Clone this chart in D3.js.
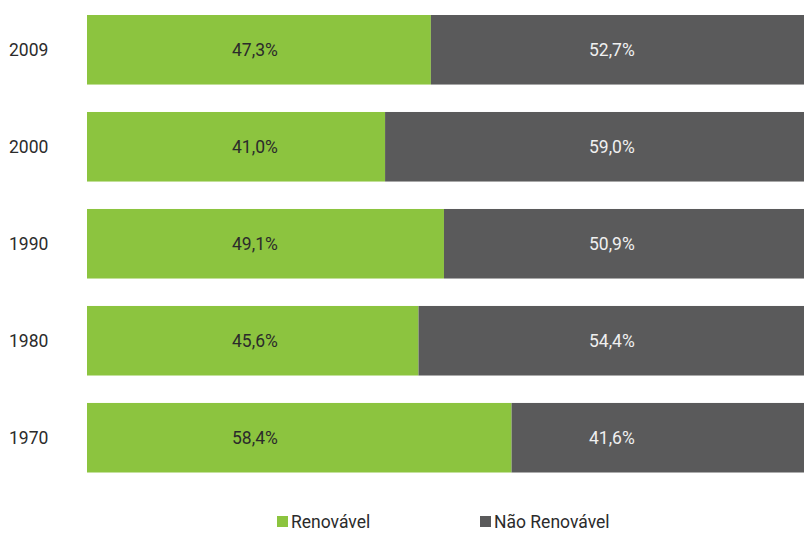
<!DOCTYPE html>
<html>
<head>
<meta charset="utf-8">
<script src="https://cdn.jsdelivr.net/npm/d3@7"></script>
<style>
  body { margin: 0; background: #fff; }
  text { font-family: "Roboto", "Liberation Sans", sans-serif; }
</style>
</head>
<body>
<script>
// Chart data
var years = ["2009", "2000", "1990", "1980", "1970"];
var renovavel = [47.3, 41.0, 49.1, 45.6, 58.4];
var naoRenovavel = [52.7, 59.0, 50.9, 54.4, 41.6];
var seriesNames = ["Renovável", "Não Renovável"];

var w = 804;
var h = 533;
var green = "#8cc43f";
var grey = "#5a5a5b";

var svg = d3.select("body").append("svg").attr("width", w).attr("height", h);

var x = d3.scaleLinear().domain([0, 100]).range([87, 814]);
var y = d3.scaleBand().domain(years).range([15, 472.5]).paddingInner(0.283).paddingOuter(0);

function fmt(v) {
  return v.toFixed(1).replace(".", ",") + "%";
}

var rows = years.map(function(yr, i) {
  return { year: yr, a: renovavel[i], b: naoRenovavel[i] };
});

var g = svg.selectAll("g.row").data(rows).enter().append("g").attr("class", "row");

// green part
g.append("rect")
  .attr("x", x(0))
  .attr("y", function(d) { return y(d.year); })
  .attr("width", function(d) { return x(d.a) - x(0); })
  .attr("height", y.bandwidth())
  .attr("fill", green);

// grey part
g.append("rect")
  .attr("x", function(d) { return x(d.a); })
  .attr("y", function(d) { return y(d.year); })
  .attr("width", function(d) { return x(d.a + d.b) - x(d.a); })
  .attr("height", y.bandwidth())
  .attr("fill", grey);

// value labels (placed at fixed spots like the original)
g.append("text")
  .attr("x", x(23.1))
  .attr("y", function(d) { return y(d.year) + y.bandwidth() / 2; })
  .attr("dy", "0.35em")
  .attr("text-anchor", "middle")
  .attr("font-size", 17.5)
  .attr("fill", "#2b2b2b")
  .text(function(d) { return fmt(d.a); });

g.append("text")
  .attr("x", x(72.2))
  .attr("y", function(d) { return y(d.year) + y.bandwidth() / 2; })
  .attr("dy", "0.35em")
  .attr("text-anchor", "middle")
  .attr("font-size", 17.5)
  .attr("fill", "#f0f0f0")
  .text(function(d) { return fmt(d.b); });

// year labels
g.append("text")
  .attr("x", 9)
  .attr("y", function(d) { return y(d.year) + y.bandwidth() / 2; })
  .attr("dy", "0.35em")
  .attr("font-size", 17.5)
  .attr("fill", "#2b2b2b")
  .text(function(d) { return d.year; });

// legend
var legendX = [277, 480];
var legend = svg.selectAll("g.legend").data(seriesNames).enter().append("g").attr("class", "legend");
legend.append("rect")
  .attr("x", function(d, i) { return legendX[i]; })
  .attr("y", 516)
  .attr("width", 11)
  .attr("height", 11)
  .attr("fill", function(d, i) { return i == 0 ? green : grey; });
legend.append("text")
  .attr("x", function(d, i) { return legendX[i] + 14; })
  .attr("y", 528)
  .attr("font-size", 17.5)
  .attr("fill", "#2b2b2b")
  .text(function(d) { return d; });
</script>
</body>
</html>
